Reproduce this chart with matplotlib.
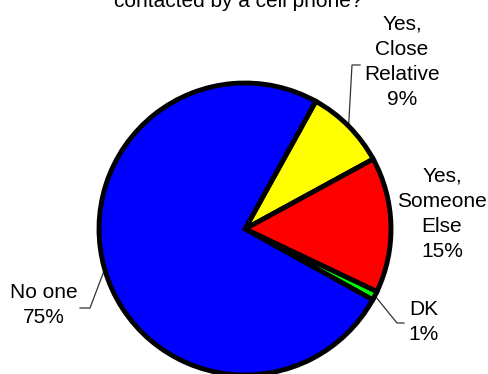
import numpy as np
import matplotlib
matplotlib.use("Agg")
import matplotlib.pyplot as plt

plt.rcParams['font.family'] = ['Liberation Sans', 'DejaVu Sans']

# data
labels = ['Yes,\nClose\nRelative', 'Yes,\nSomeone\nElse', 'DK', 'No one']
values = [9, 15, 1, 75]
colors = ['#FFFF00', '#FF0000', '#00FF00', '#0000FF']
title = 'contacted by a cell phone?'

W, H = 489, 374

def py(y):
    # pixel row (from top) -> data y
    return H - y

fig = plt.figure(figsize=(W / 100, H / 100), dpi=100)
ax = fig.add_axes([0, 0, 1, 1])

wedges, _ = ax.pie(values, colors=colors, startangle=61, counterclock=False,
                   center=(245, py(229)), radius=146,
                   wedgeprops=dict(edgecolor='black', linewidth=3.5))
ax.set_xlim(0, W)
ax.set_ylim(0, H)
ax.set_aspect('equal')
ax.axis('off')

# label positions (center) and leader elbows, in pixels
label_pos = [(402, 62), (442, 214), (424, 322), (44, 305)]
leaders = [[(352, 65), (360, 65)], None, [(397, 323), (404, 323)], [(90, 308), (80, 308)]]

for w, lab, v, pos, ld in zip(wedges, labels, values, label_pos, leaders):
    ax.text(pos[0], py(pos[1]), f'{lab}\n{v}%', ha='center', va='center',
            fontsize=15, linespacing=1.42)
    if ld is not None:
        ang = np.deg2rad((w.theta1 + w.theta2) / 2)
        ex = w.center[0] + w.r * np.cos(ang)
        ey = w.center[1] + w.r * np.sin(ang)
        xs = [ex] + [p[0] for p in ld]
        ys = [ey] + [py(p[1]) for p in ld]
        ax.plot(xs, ys, color='#333333', lw=0.9, zorder=0)

ax.text(238, py(7), title, ha='center', va='baseline', fontsize=15)

fig.savefig('out.png', dpi=100)
